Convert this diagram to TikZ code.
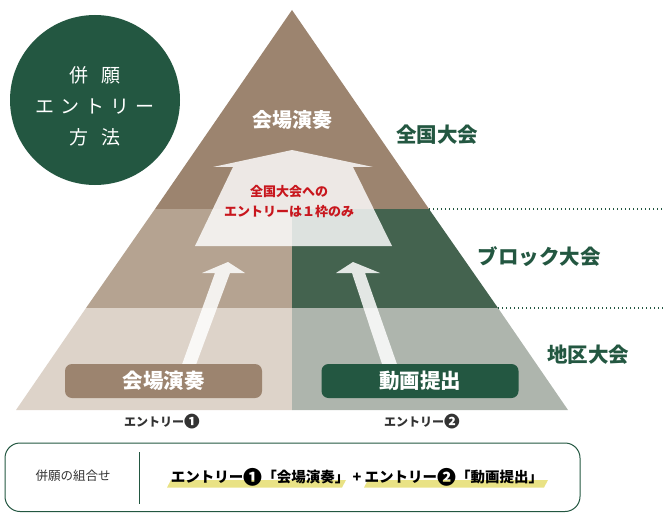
\documentclass[tikz,border=0pt]{standalone}
\usepackage{fontspec}
\setmainfont{Noto Sans CJK JP}
\newcommand\numone{\raisebox{-0.12em}{\scalebox{1.3}{❶}}}
\newcommand\numtwo{\raisebox{-0.12em}{\scalebox{1.3}{❷}}}
\usetikzlibrary{calc}
\definecolor{topbrown}{HTML}{9C846F}
\definecolor{midbrown}{HTML}{B5A391}
\definecolor{lowbrown}{HTML}{DDD3C9}
\definecolor{midgreen}{HTML}{44634F}
\definecolor{lowgreen}{HTML}{AEB5AD}
\definecolor{darkgreen}{HTML}{235741}
\definecolor{notered}{HTML}{C8161D}
\definecolor{marker}{HTML}{E9E285}
\definecolor{inkgray}{HTML}{333333}

\begin{document}
\begin{tikzpicture}[x=1pt,y=-1pt,
  lvl/.style={text=darkgreen,font=\fontsize{20.5}{20.5}\selectfont\bfseries},
  entry/.style={text=inkgray,font=\fontsize{12}{12}\selectfont\bfseries},
  course/.style={rounded corners=7pt,minimum width=197pt,minimum height=34pt,
    text=white,font=\fontsize{20.5}{20.5}\selectfont\bfseries},
  uparrow/.style={fill=white,fill opacity=0.85,draw=none}]

\useasboundingbox (0,0) rectangle (663,513);

\coordinate (apex) at (292,10);
\coordinate (A) at (155,209);
\coordinate (B) at (429,209);
\coordinate (C) at (86,308);
\coordinate (D) at (498,308);
\coordinate (E) at (16,410);
\coordinate (F) at (568,410);
\coordinate (M1) at (292,209);
\coordinate (M2) at (292,308);
\coordinate (M3) at (292,410);

% pyramid
\fill[topbrown] (apex)--(B)--(A)--cycle;
\fill[midbrown] (A)--(M1)--(M2)--(C)--cycle;
\fill[midgreen] (M1)--(B)--(D)--(M2)--cycle;
\fill[lowbrown] (C)--(M2)--(M3)--(E)--cycle;
\fill[lowgreen] (M2)--(D)--(F)--(M3)--cycle;

\draw[darkgreen,line width=1.3pt,dash pattern=on 1.2pt off 2.8pt] (B)--(663,209);
\draw[darkgreen,line width=1.3pt,dash pattern=on 1.2pt off 2.8pt] (D)--(663,308);

% big arrow
\fill[white,fill opacity=0.82] (292,150)--(373,167)--(353,167)--(392,246)--(195,246)--(233,167)--(213,167)--cycle;

% small arrows
\fill[uparrow] (228,262)--(245,273)--(230,273)--(194,370)--(180,370)--(215,273)--(202,273)--cycle;
\fill[uparrow] (353,262)--(380,273)--(365,273)--(399,370)--(384,370)--(352,273)--(336,273)--cycle;

\node[text=white,font=\fontsize{20}{20}\selectfont\bfseries] (hall) at (292,120) {会場演奏};
\node[text=notered,align=center,font=\fontsize{13}{20}\selectfont\bfseries] (onlyone) at (289,202) {全国大会への\\エントリーは１枠のみ};

\node[course,fill=topbrown] (live) at (163.5,381) {会場演奏};
\node[course,fill=darkgreen] (video) at (420,381) {動画提出};

\node[entry] (entry1) at (162,422) {エントリー\numone};
\node[entry] (entry2) at (422,422) {エントリー\numtwo};

\node[lvl] (national) at (437,135) {全国大会};
\node[lvl] (block) at (539,257) {ブロック大会};
\node[lvl] (district) at (588,355) {地区大会};

% title circle
\node[circle,fill=darkgreen,minimum size=170pt,inner sep=0pt] (howto) at (95,100) {};
\node[text=white,align=center,font=\fontsize{19}{31}\selectfont] (howtotext) at ($(howto)+(0,6)$)
  {併\hspace{14pt}願\\エ\hspace{6pt}ン\hspace{6pt}ト\hspace{6pt}リ\hspace{6pt}ー\\方\hspace{14pt}法};

% combination box
\draw[darkgreen,line width=1pt,rounded corners=15pt] (5,443) rectangle (580,511.5);
\coordinate (divtop) at (139,452);
\coordinate (divbot) at (139,504);
\draw[darkgreen,line width=1pt] (divtop)--(divbot);
\node[text=inkgray,font=\fontsize{12.5}{12.5}\selectfont] (combo) at (73,476) {併願の組合せ};

\fill[marker] (167,487.5)--(171,480)--(346,480)--(342,487.5)--cycle;
\fill[marker] (364,487.5)--(368,480)--(548,480)--(544,487.5)--cycle;
\node[text=black,font=\fontsize{14.5}{14.5}\selectfont\bfseries] (pair) at (357,477)
  {エントリー\numone「会場演奏」 + エントリー\numtwo「動画提出」};

\end{tikzpicture}
\end{document}
